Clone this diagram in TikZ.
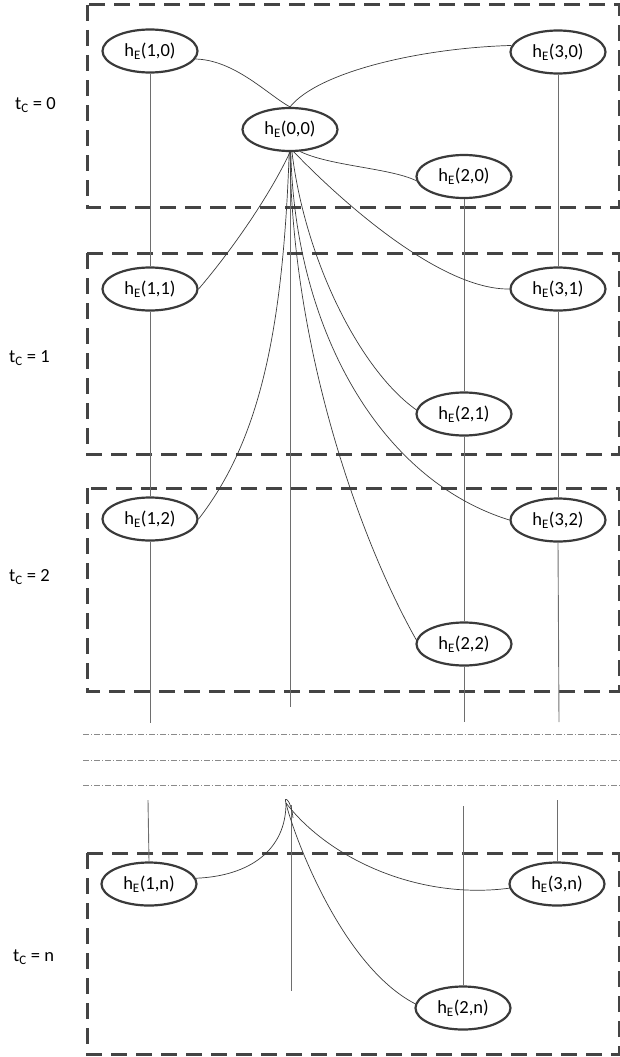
\documentclass[tikz,border=0pt]{standalone}
\usepackage{fontspec}
\setmainfont{Carlito}
\usetikzlibrary{shapes.geometric}
\definecolor{edgec}{HTML}{3A3A3A}
\definecolor{boxc}{HTML}{444444}
\definecolor{vcol}{HTML}{6E6E6E}
\definecolor{ccol}{HTML}{3A3A3A}
\definecolor{sepc}{HTML}{8A8A8A}
\begin{document}
\begin{tikzpicture}[x=1pt,y=-1pt,
  enode/.style={ellipse, draw=edgec, line width=2.2pt, minimum width=95pt, minimum height=43pt, inner sep=0pt, font=\fontsize{18.5}{22}\selectfont},
  box/.style={draw=boxc, line width=3pt, dash pattern=on 16pt off 9pt},
  vline/.style={draw=vcol, line width=0.9pt},
  conn/.style={draw=ccol, line width=0.7pt},
  sepline/.style={draw=sepc, line width=0.9pt, dash pattern=on 6pt off 2pt on 1pt off 2pt},
  lab/.style={font=\fontsize{18.5}{22}\selectfont, anchor=west, inner sep=0pt}]
\useasboundingbox (0,0) rectangle (620,1057);

% boxes
\draw[box] (87,5) rectangle (619,207);
\draw[box] (87,253) rectangle (619,454);
\draw[box] (87,488) rectangle (619,691);
\draw[box] (87,853) rectangle (619,1054);

% labels
\node[lab] (l0) at (15,105) {t\textsubscript{C} = 0};
\node[lab] (l1) at (9,358) {t\textsubscript{C} = 1};
\node[lab] (l2) at (9,577) {t\textsubscript{C} = 2};
\node[lab] (ln) at (13,957) {t\textsubscript{C} = n};

% nodes
\node[enode] (n10) at (150,51) {h\textsubscript{E}(1,0)};
\node[enode] (n00) at (290,129.5) {h\textsubscript{E}(0,0)};
\node[enode] (n30) at (558,52) {h\textsubscript{E}(3,0)};
\node[enode] (n20) at (464,176.5) {h\textsubscript{E}(2,0)};
\node[enode] (n11) at (150,289) {h\textsubscript{E}(1,1)};
\node[enode] (n31) at (558,289) {h\textsubscript{E}(3,1)};
\node[enode] (n21) at (464,414) {h\textsubscript{E}(2,1)};
\node[enode] (n12) at (150,519) {h\textsubscript{E}(1,2)};
\node[enode] (n32) at (558,520) {h\textsubscript{E}(3,2)};
\node[enode] (n22) at (464,644) {h\textsubscript{E}(2,2)};
\node[enode] (n1n) at (149,884) {h\textsubscript{E}(1,n)};
\node[enode] (n3n) at (557,884) {h\textsubscript{E}(3,n)};
\node[enode] (n2n) at (463,1008) {h\textsubscript{E}(2,n)};

% free ends
\coordinate (e1) at (150,723);
\coordinate (e2) at (464,722);
\coordinate (e3) at (559,722);
\coordinate (e0) at (290,707);
\coordinate (b1) at (148,800);
\coordinate (b2) at (463,806);
\coordinate (b3) at (557,800);
\coordinate (b0) at (291,805);
\coordinate (b0e) at (291,991);
\coordinate (loop) at (286,803);
\coordinate (hook) at (293,818);
\coordinate (s1a) at (83,734);
\coordinate (s1b) at (620,734);
\coordinate (s2a) at (83,760);
\coordinate (s2b) at (620,760);
\coordinate (s3a) at (83,785);
\coordinate (s3b) at (620,785);

% vertical lines
\draw[vline] (n10) -- (n11);
\draw[vline] (n11) -- (n12);
\draw[vline] (n12.south) -- (e1);
\draw[vline] (n20) -- (n21);
\draw[vline] (n21) -- (n22);
\draw[vline] (n22.south) -- (e2);
\draw[vline] (n30) -- (n31);
\draw[vline] (n31) -- (n32);
\draw[vline] (n32.south) -- (e3);
\draw[vline] (n00.south) -- (e0);
\draw[vline] (b1) -- (n1n.north);
\draw[vline] (b2) -- (n2n.north);
\draw[vline] (b3) -- (n3n.north);
\draw[vline] (b0) -- (b0e);

% separators
\draw[sepline] (s1a) -- (s1b);
\draw[sepline] (s2a) -- (s2b);
\draw[sepline] (s3a) -- (s3b);

% curves from h_E(0,0)
\draw[conn] (n10.-10) .. controls (235,60) and (268,95) .. (n00.north);
\draw[conn] (n00.north) .. controls (318,72) and (420,48) .. (n30.172);
\draw[conn] (n00.-65) .. controls (330,166) and (390,168) .. (n20.185);
\draw[conn] (n00.south) .. controls (270,195) and (232,250) .. (n11.east);
\draw[conn] (n00.-80) .. controls (340,200) and (440,290) .. (n31.west);
\draw[conn] (n00.-85) .. controls (305,260) and (360,370) .. (n21.175);
\draw[conn] (n00.-88) .. controls (295,330) and (380,480) .. (n32.west);
\draw[conn] (n00.south) .. controls (292,350) and (360,540) .. (n22.175);
\draw[conn] (n00.-92) .. controls (283,330) and (260,440) .. (n12.east);

% curves at the bottom
\draw[conn] (loop) .. controls (286,850) and (250,876) .. (n1n.7);
\draw[conn] (loop) .. controls (330,860) and (420,900) .. (n3n.185);
\draw[conn] (hook) .. controls (291,798) and (283,796) .. (loop) .. controls (292,830) and (340,965) .. (n2n.175);
\end{tikzpicture}
\end{document}
